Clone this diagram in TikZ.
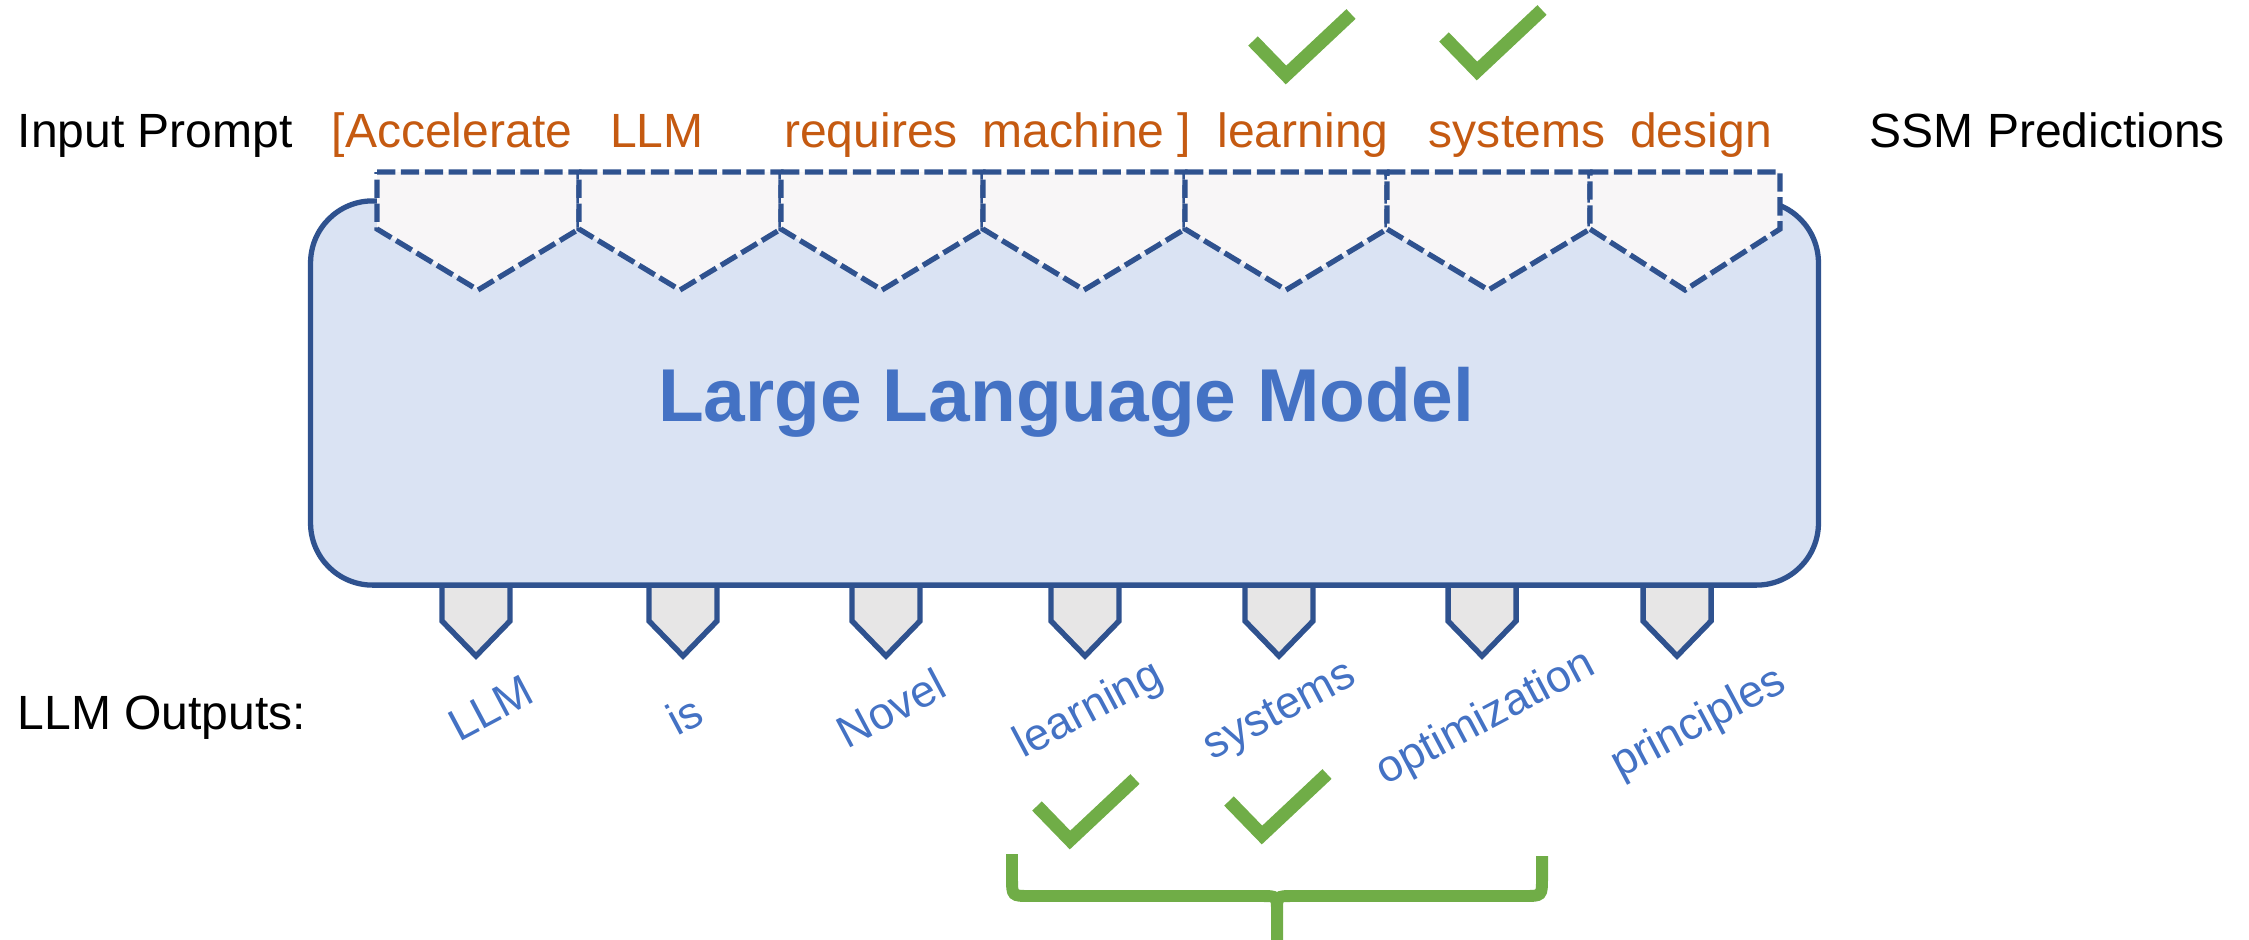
\documentclass[tikz,border=0pt]{standalone}
\usepackage{fontspec}
\setmainfont{Liberation Sans}
\definecolor{edge}{HTML}{2F528F}
\definecolor{boxfill}{HTML}{DAE3F3}
\definecolor{slotfill}{HTML}{F8F6F7}
\definecolor{outfill}{HTML}{E7E6E6}
\definecolor{prompt}{HTML}{C55A11}
\definecolor{word}{HTML}{4472C4}
\definecolor{ok}{HTML}{70AD47}
\tikzset{
  sidetext/.style={font=\fontsize{13.66}{16}\selectfont, inner sep=0pt, anchor=base west},
  tok/.style={font=\fontsize{13.66}{16}\selectfont, inner sep=0pt, text=prompt, anchor=base},
  outword/.style={font=\fontsize{12.8}{15}\selectfont, text=word, inner sep=0pt, rotate=28},
  slot/.style={draw=edge, fill=slotfill, line width=1.5pt, dash pattern=on 5.2pt off 1.6pt, line join=miter},
  outslot/.style={draw=edge, fill=outfill, line width=1.55pt, line join=miter},
  tick/.style={draw=ok, line width=3.8pt, line join=miter, line cap=butt},
  bracket/.style={draw=ok, line width=3.4pt, line cap=butt},
  model/.style={draw=edge, fill=boxfill, line width=1.5pt, rounded corners=0.62cm,
                minimum width=15.07cm, minimum height=3.84cm, inner sep=0pt},
}
\begin{document}
\begin{tikzpicture}[x=0.01cm, y=-0.01cm]
  \useasboundingbox (0,0) rectangle (2249,939);

  % output slots below the model (drawn first so the box edge covers their tops)
  \foreach \c in {476,683,886,1085,1279,1482,1677} {
    \filldraw[outslot] (\c-34,585) -- (\c-34,621) -- (\c,656) -- (\c+34,621) -- (\c+34,585);
  }

  % the model block
  \node[model] (llm) at (1064.5,393) {};
  \node[font=\bfseries\fontsize{21.3}{25}\selectfont, text=word, anchor=base, inner sep=0pt]
    (title) at (1066,421) {Large Language Model};

  % dashed input slots on top of the model
  \foreach \l/\r in {377/579, 579/781, 781/983, 983/1185, 1185/1387, 1387/1590, 1590/1780} {
    \draw[slot] (\l,172) -- (\r,172) -- (\r,229) -- ({(\l+\r)/2},290) -- (\l,229) -- cycle;
  }

  % row labels
  \node[sidetext] (inp) at (17,147) {Input Prompt};
  \node[sidetext] (ssm) at (1869,147) {SSM Predictions};
  \node[sidetext] (outs) at (17,729) {LLM Outputs:};

  % prompt and speculated tokens
  \node[tok] (t1) at (452,147) {[Accelerate};
  \node[tok] (t2) at (657,147) {LLM};
  \node[tok] (t3) at (871,147) {requires};
  \node[tok] (t4) at (1087,147) {machine ]};
  \node[tok] (t5) at (1303,147) {learning};
  \node[tok] (t6) at (1517,147) {systems};
  \node[tok] (t7) at (1701,147) {design};

  % tokens produced by the model
  \node[outword] (o1) at (491,708) {LLM};
  \node[outword] (o2) at (684,715) {is};
  \node[outword] (o3) at (891,708) {Novel};
  \node[outword] (o4) at (1089,711) {learning};
  \node[outword] (o5) at (1281,713) {systems};
  \node[outword] (o6) at (1486,719) {optimization};
  \node[outword] (o7) at (1699,724) {principles};

  % check marks
  \draw[tick] (1253,41) -- (1286,75) -- (1351,14);
  \draw[tick] (1444,37) -- (1477,71) -- (1542,10);
  \draw[tick] (1037,806) -- (1070,840) -- (1135,779);
  \draw[tick] (1229,801) -- (1262,835) -- (1327,774);

  % brace grouping the accepted tokens
  \draw[bracket] (1012,854) -- (1012,878) .. controls (1012,896) .. (1030,896)
                 -- (1262,896) .. controls (1277,896) .. (1277,912) -- (1277,945);
  \draw[bracket] (1542,856) -- (1542,878) .. controls (1542,896) .. (1524,896)
                 -- (1292,896) .. controls (1277,896) .. (1277,912);
\end{tikzpicture}
\end{document}
